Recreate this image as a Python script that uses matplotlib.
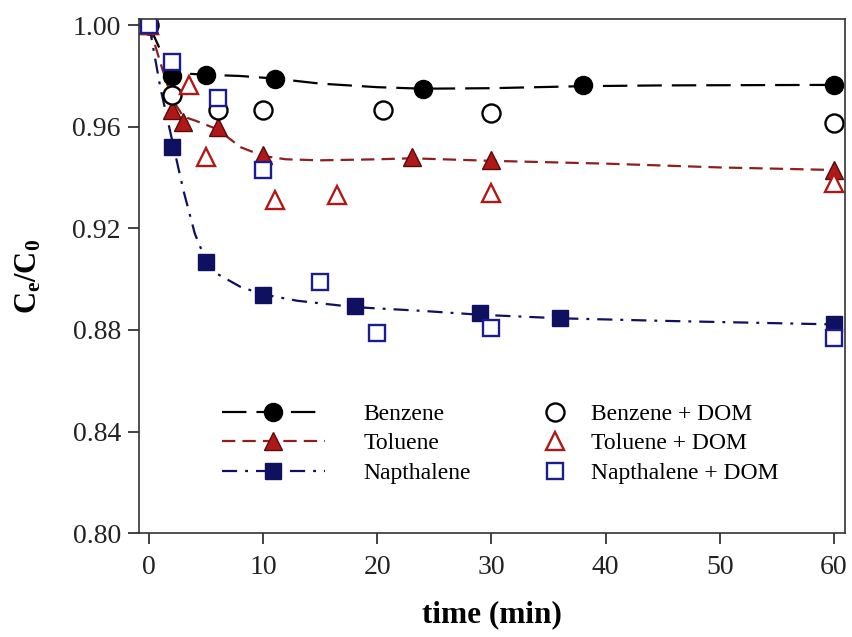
import numpy as np
import matplotlib.pyplot as plt
from matplotlib.lines import Line2D

plt.rcParams['font.family'] = ['Liberation Serif', 'DejaVu Serif']
plt.rcParams['mathtext.fontset'] = 'custom'
plt.rcParams['mathtext.rm'] = 'Liberation Serif'
plt.rcParams['mathtext.bf'] = 'Liberation Serif:bold'

# measured points (time, min ; Ce/C0)
benz_t = [0, 2, 5, 11, 24, 38, 60]
benz_c = [1.000, 0.980, 0.9805, 0.979, 0.975, 0.9765, 0.9765]
benz_dom_t = [0, 2, 6, 10, 20.5, 30, 60]
benz_dom_c = [1.000, 0.9725, 0.9665, 0.9665, 0.9665, 0.9655, 0.9615]

tol_t = [0, 2, 3, 6, 10, 23, 30, 60]
tol_c = [1.000, 0.9665, 0.962, 0.960, 0.9488, 0.948, 0.9468, 0.943]
tol_dom_t = [0, 3.5, 5, 11, 16.5, 30, 60]
tol_dom_c = [1.000, 0.9765, 0.948, 0.931, 0.933, 0.934, 0.938]

nap_t = [0, 2, 5, 10, 18, 29, 36, 60]
nap_c = [1.000, 0.952, 0.9067, 0.8937, 0.8895, 0.8866, 0.8846, 0.8822]
nap_dom_t = [0, 2, 6, 10, 15, 20, 30, 60]
nap_dom_c = [1.000, 0.9854, 0.9713, 0.943, 0.8988, 0.879, 0.8807, 0.8768]

# fitted curves
benz_fit_t = [0, 1, 2, 3, 5, 8, 11, 15, 20, 24, 30, 38, 45, 60]
benz_fit_c = [1.000, 0.990, 0.9825, 0.981, 0.9805, 0.980, 0.979, 0.977, 0.9756, 0.9750, 0.9752, 0.976, 0.9763, 0.9765]
tol_fit_t = [0, 1, 2, 3, 4, 6, 8, 10, 12, 15, 20, 23, 30, 40, 50, 60]
tol_fit_c = [1.000, 0.985, 0.971, 0.964, 0.9625, 0.959, 0.952, 0.9485, 0.9472, 0.9468, 0.9472, 0.9476, 0.9466, 0.9455, 0.944, 0.943]
nap_fit_t = [0, 1, 2, 3, 4, 5, 6, 8, 10, 13, 18, 24, 29, 36, 45, 60]
nap_fit_c = [1.000, 0.975, 0.955, 0.935, 0.918, 0.907, 0.902, 0.897, 0.894, 0.8915, 0.889, 0.8875, 0.886, 0.8846, 0.8836, 0.8822]

red = '#B01818'
dred = '#8E1F1F'
navy = '#101060'
blue = '#1C1C8C'
lw = 1.6
d_benz = (11, 4.5)
d_tol = (6, 3.2)
d_nap = (6.8, 3.6, 1.3, 3.6)

fig = plt.figure(figsize=(8.52, 6.37), dpi=100)
ax = fig.add_axes([0.163, 0.163, 0.829, 0.807])

ax.plot(benz_fit_t, benz_fit_c, color='black', lw=lw, dashes=d_benz)
ax.plot(tol_fit_t, tol_fit_c, color=dred, lw=lw, dashes=d_tol)
ax.plot(nap_fit_t, nap_fit_c, color=navy, lw=lw, dashes=d_nap)

ms = 13
# filled markers first, open (DOM) markers drawn on top
ax.plot(benz_t, benz_c, 'o', ms=ms, mfc='black', mec='black', ls='none')
ax.plot(tol_t, tol_c, '^', ms=ms, mfc=red, mec='#5a0a0a', mew=1.0, ls='none')
ax.plot(nap_t, nap_c, 's', ms=ms - 1, mfc=navy, mec=navy, ls='none')
ax.plot(benz_dom_t, benz_dom_c, 'o', ms=ms, mfc='white', mec='black', mew=1.7, ls='none')
ax.plot(tol_dom_t, tol_dom_c, '^', ms=ms, mfc='white', mec=red, mew=1.7, ls='none')
ax.plot(nap_dom_t, nap_dom_c, 's', ms=ms - 1, mfc='white', mec=blue, mew=1.7, ls='none')

ax.set_xlim(-0.9, 61)
ax.set_ylim(0.80, 1.0024)
ax.set_xticks(np.arange(0, 61, 10))
ax.set_yticks(np.arange(0.80, 1.001, 0.04))
ax.set_yticklabels(['%.2f' % v for v in np.arange(0.80, 1.001, 0.04)])
ax.tick_params(direction='out', length=8, width=1.2, labelsize=20, colors='#222222')
ax.tick_params(axis='x', pad=8)
ax.tick_params(axis='y', pad=5)
for s in ax.spines.values():
    s.set_linewidth(1.2)
    s.set_color('#333333')

ax.set_xlabel('time (min)', fontsize=22.5, fontweight='bold', labelpad=14)
ax.set_ylabel(r'$\mathbf{C_e/C_0}$', fontsize=22)
ax.yaxis.set_label_coords(-0.135, 0.5)

h1 = [Line2D([], [], color='black', lw=lw, dashes=d_benz, marker='o', ms=ms, mfc='black', mec='black'),
      Line2D([], [], color=dred, lw=lw, dashes=d_tol, marker='^', ms=ms, mfc=red, mec='#5a0a0a'),
      Line2D([], [], color=navy, lw=lw, dashes=d_nap, marker='s', ms=ms - 1, mfc=navy, mec=navy)]
leg1 = ax.legend(h1, ['Benzene', 'Toluene', 'Napthalene'], loc='upper left',
                 bbox_to_anchor=(0.117, 0.252), frameon=False, fontsize=17,
                 borderpad=0, borderaxespad=0,
                 handlelength=4.4, handletextpad=1.6, labelspacing=0.33)
ax.add_artist(leg1)
h2 = [Line2D([], [], ls='none', marker='o', ms=ms, mfc='white', mec='black', mew=1.7),
      Line2D([], [], ls='none', marker='^', ms=ms, mfc='white', mec=red, mew=1.7),
      Line2D([], [], ls='none', marker='s', ms=ms - 1, mfc='white', mec=blue, mew=1.7)]
ax.legend(h2, ['Benzene + DOM', 'Toluene + DOM', 'Napthalene + DOM'], loc='upper left',
          bbox_to_anchor=(0.572, 0.252), frameon=False, fontsize=17,
          borderpad=0, borderaxespad=0,
          handlelength=1.0, handletextpad=1.05, labelspacing=0.33)

fig.savefig('out.png', dpi=100)
